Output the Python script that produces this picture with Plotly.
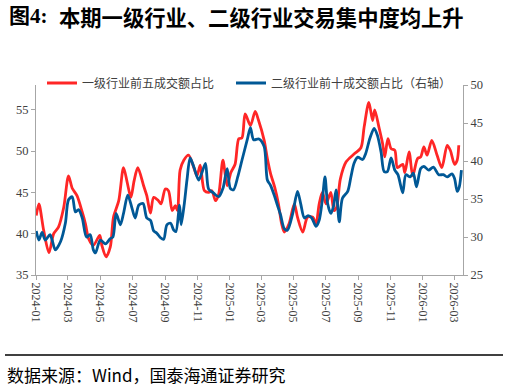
import plotly.graph_objects as go

# ---------------- data ----------------
red_dates = [
    "2024-01-01", "2024-01-06", "2024-01-15", "2024-01-25", "2024-02-03", "2024-02-12", "2024-02-22",
    "2024-03-02", "2024-03-09", "2024-03-18", "2024-03-28", "2024-04-03", "2024-04-09", "2024-04-18",
    "2024-04-30", "2024-05-04", "2024-05-12", "2024-05-20", "2024-05-26", "2024-06-05", "2024-06-14",
    "2024-06-21", "2024-06-28", "2024-07-04", "2024-07-11", "2024-07-22", "2024-07-28", "2024-08-04",
    "2024-08-10", "2024-08-19", "2024-08-24", "2024-09-01", "2024-09-07", "2024-09-14", "2024-09-20",
    "2024-09-24", "2024-09-29", "2024-10-06", "2024-10-15", "2024-10-25", "2024-10-31", "2024-11-06",
    "2024-11-14", "2024-11-22", "2024-11-28", "2024-12-05", "2024-12-11", "2024-12-19", "2024-12-27",
    "2025-01-03", "2025-01-11", "2025-01-18", "2025-01-24", "2025-01-30", "2025-02-09", "2025-02-18",
    "2025-02-24", "2025-03-07", "2025-03-13", "2025-03-19", "2025-03-27", "2025-04-03", "2025-04-09",
    "2025-04-14", "2025-04-23", "2025-05-03", "2025-05-09", "2025-05-19", "2025-05-28", "2025-06-07",
    "2025-06-13", "2025-06-19", "2025-06-25", "2025-07-02", "2025-07-11", "2025-07-17", "2025-07-22",
    "2025-07-29", "2025-08-09", "2025-08-25", "2025-09-06", "2025-09-12", "2025-09-21", "2025-09-28",
    "2025-10-02", "2025-10-10", "2025-10-17", "2025-10-21", "2025-10-27", "2025-11-02", "2025-11-09",
    "2025-11-14", "2025-11-24", "2025-11-28", "2025-12-06", "2025-12-13", "2025-12-22", "2025-12-28",
    "2026-01-03", "2026-01-09", "2026-01-18", "2026-01-28", "2026-02-06", "2026-02-16", "2026-02-22",
    "2026-03-02", "2026-03-07", "2026-03-10",
]
red_values = [
    42.2, 43.6, 40.4, 37.7, 40.0, 40.8, 43.2,
    47.0, 45.5, 44.6, 42.6, 41.2, 39.4, 38.6,
    39.8, 38.6, 37.2, 38.4, 42.0, 44.0, 48.0,
    46.2, 44.4, 46.4, 48.0, 45.8, 44.6, 42.5,
    44.4, 44.0, 43.6, 45.4, 45.2, 42.8, 43.4,
    42.8, 47.7, 48.9, 49.5, 48.0, 47.0, 48.3,
    45.2, 45.0, 45.2, 44.0, 44.8, 48.9, 45.8,
    47.4, 48.4, 51.5, 51.6, 54.5, 53.1, 54.8,
    53.8, 51.3, 49.1, 47.3, 45.6, 43.6, 41.2,
    40.2, 41.2, 43.6, 42.0, 40.2, 42.0, 42.0,
    41.2, 43.6, 45.0, 43.6, 45.0, 42.8, 43.2,
    46.6, 48.7, 49.7, 50.4, 52.9, 55.9, 53.7,
    55.0, 52.9, 50.9, 49.3, 51.5, 50.3, 50.1,
    48.0, 48.4, 47.4, 49.9, 47.0, 49.1, 49.3,
    50.5, 49.5, 51.3, 49.5, 48.0, 50.7, 50.1,
    48.4, 48.9, 50.7,
]

blue_dates = [
    "2024-01-01", "2024-01-06", "2024-01-12", "2024-01-18", "2024-01-27", "2024-01-31", "2024-02-06",
    "2024-02-16", "2024-02-25", "2024-03-02", "2024-03-09", "2024-03-15", "2024-03-21", "2024-03-28",
    "2024-04-05", "2024-04-12", "2024-04-18", "2024-04-22", "2024-05-01", "2024-05-11", "2024-05-20",
    "2024-05-25", "2024-05-31", "2024-06-08", "2024-06-14", "2024-06-22", "2024-06-30", "2024-07-06",
    "2024-07-13", "2024-07-21", "2024-07-28", "2024-08-04", "2024-08-10", "2024-08-16", "2024-08-23",
    "2024-08-29", "2024-09-04", "2024-09-11", "2024-09-17", "2024-09-21", "2024-09-28", "2024-10-01",
    "2024-10-07", "2024-10-12", "2024-10-18", "2024-10-25", "2024-11-03", "2024-11-09", "2024-11-16",
    "2024-11-22", "2024-12-01", "2024-12-11", "2024-12-19", "2024-12-27", "2025-01-02", "2025-01-08",
    "2025-01-16", "2025-01-24", "2025-02-03", "2025-02-09", "2025-02-15", "2025-02-25", "2025-03-07",
    "2025-03-13", "2025-03-19", "2025-03-27", "2025-04-01", "2025-04-07", "2025-04-14", "2025-04-20",
    "2025-04-30", "2025-05-09", "2025-05-15", "2025-05-22", "2025-05-29", "2025-06-05", "2025-06-13",
    "2025-06-19", "2025-06-25", "2025-06-30", "2025-07-05", "2025-07-11", "2025-07-16", "2025-07-21",
    "2025-07-27", "2025-08-02", "2025-08-12", "2025-08-18", "2025-08-24", "2025-08-31", "2025-09-09",
    "2025-09-15", "2025-09-23", "2025-10-01", "2025-10-07", "2025-10-14", "2025-10-20", "2025-10-26",
    "2025-11-02", "2025-11-09", "2025-11-15", "2025-11-24", "2025-11-30", "2025-12-08", "2025-12-14",
    "2025-12-20", "2025-12-28", "2026-01-03", "2026-01-12", "2026-01-21", "2026-01-31", "2026-02-09",
    "2026-02-16", "2026-02-25", "2026-03-02", "2026-03-07", "2026-03-11", "2026-03-15",
]
blue_values = [
    30.8, 29.6, 30.6, 29.6, 30.3, 29.6, 28.3,
    29.4, 31.8, 34.9, 35.3, 33.3, 33.6, 32.5,
    30.0, 30.3, 28.3, 27.9, 29.6, 29.1, 29.8,
    30.0, 33.1, 31.6, 33.1, 35.5, 33.8, 32.5,
    34.2, 34.4, 32.5, 32.2, 30.8, 30.5, 29.9,
    29.7, 31.6, 31.8, 30.9, 30.7, 34.2, 31.6,
    34.4, 37.5, 40.4, 39.2, 37.5, 38.4, 39.7,
    36.3, 35.8, 35.3, 36.4, 39.0, 36.4, 36.2,
    37.9, 40.1, 42.8, 44.4, 42.8, 42.9, 41.9,
    37.5, 36.8, 35.3, 34.2, 32.9, 31.1, 30.9,
    33.1, 36.0, 34.4, 32.5, 32.8, 32.5, 31.4,
    32.2, 34.9, 37.9, 34.4, 33.1, 34.0, 36.2,
    32.0, 35.1, 36.0, 37.9, 39.7, 40.5, 40.2,
    41.0, 43.0, 44.3, 43.4, 41.2, 38.6, 38.6,
    40.4, 38.8, 38.2, 35.8, 38.2, 37.9, 38.4,
    36.6, 39.0, 39.3, 38.8, 39.2, 38.2, 38.2,
    37.9, 38.3, 37.7, 36.0, 36.6, 38.8,
]

red_name = "一级行业前五成交额占比"
blue_name = "二级行业前十成交额占比（右轴）"
left_ticks = [35, 40, 45, 50, 55]
right_ticks = [25, 30, 35, 40, 45, 50]
title_fig = "图4:"
title_text = "本期一级行业、二级行业交易集中度均上升"
source_text = "数据来源：Wind，国泰海通证券研究"

# ---------------- layout geometry ----------------
W, H = 508, 387
ML, MR, MT, MB = 36, 45, 85, 112
PW, PH = W - ML - MR, H - MT - MB


def px(x):
    return (x - ML) / PW


def py(y):
    return (H - MB - y) / PH


RED = "#FF2626"
BLUE = "#005896"
AXIS = "#A6A6A6"
SERIF = "Liberation Serif, Times New Roman, serif"
TICKFONT = dict(family=SERIF, size=12.5, color="#404040")
CJK = "Noto Sans CJK SC"

fig = go.Figure()
fig.add_trace(go.Scatter(
    x=red_dates, y=red_values, name=red_name, mode="lines",
    line=dict(color=RED, width=2.8, shape="spline", smoothing=0.8),
    legend="legend", yaxis="y",
))
fig.add_trace(go.Scatter(
    x=blue_dates, y=blue_values, name=blue_name, mode="lines",
    line=dict(color=BLUE, width=2.8, shape="spline", smoothing=0.8),
    legend="legend2", yaxis="y2",
))

legend_common = dict(
    orientation="h", yanchor="middle", xanchor="left",
    font=dict(family=CJK, size=12, color="#404040"),
    bgcolor="rgba(0,0,0,0)", borderwidth=0,
)

fig.update_layout(
    width=W, height=H,
    margin=dict(l=ML, r=MR, t=MT, b=MB, pad=0, autoexpand=False),
    paper_bgcolor="white", plot_bgcolor="white",
    showlegend=True,
    legend=dict(x=px(42), y=py(83), **legend_common),
    legend2=dict(x=px(231), y=py(83), **legend_common),
    xaxis=dict(
        type="date",
        range=["2023-12-31 12:00", "2026-03-18"],
        tick0="2024-01-01", dtick="M2", tickformat="%Y-%m",
        tickangle=90, tickfont=dict(family=SERIF, size=12, color="#404040"),
        showline=True, linecolor=AXIS, linewidth=1,
        ticks="outside", ticklen=4, tickcolor=AXIS,
        showgrid=False, zeroline=False,
    ),
    yaxis=dict(
        range=[35, 58], tickvals=left_ticks, ticksuffix="%",
        tickfont=TICKFONT,
        showline=True, linecolor=AXIS, linewidth=1,
        ticks="outside", ticklen=4, tickcolor=AXIS,
        showgrid=False, zeroline=False,
    ),
    yaxis2=dict(
        range=[25, 50], tickvals=right_ticks, ticksuffix="%",
        tickfont=TICKFONT, overlaying="y", side="right",
        showline=True, linecolor=AXIS, linewidth=1,
        ticks="outside", ticklen=4, tickcolor=AXIS,
        showgrid=False, zeroline=False,
    ),
    annotations=[
        dict(text="<b>" + title_fig + "</b>", xref="paper", yref="paper",
             x=px(7), y=py(16), xanchor="left", yanchor="middle", showarrow=False,
             font=dict(family=SERIF + ", " + CJK, size=21, color="black")),
        dict(text="<b>" + title_text + "</b>", xref="paper", yref="paper",
             x=px(57), y=py(16), xanchor="left", yanchor="middle", showarrow=False,
             font=dict(family=CJK, size=21.3, color="black")),
        dict(text=source_text, xref="paper", yref="paper",
             x=px(5), y=py(374), xanchor="left", yanchor="middle", showarrow=False,
             font=dict(family=CJK, size=17, color="black")),
    ],
    shapes=[
        dict(type="line", xref="paper", yref="paper",
             x0=px(5), x1=px(503), y0=py(355), y1=py(355),
             line=dict(color="black", width=1.5)),
    ],
)

fig.write_html(
    "out.html",
    config={"displayModeBar": False},
    post_script="document.body.style.margin='0px';document.body.style.overflow='hidden';",
)
